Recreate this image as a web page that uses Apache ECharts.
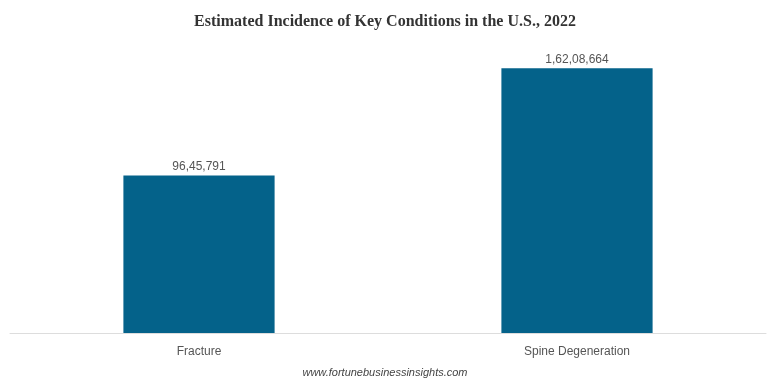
<!DOCTYPE html>
<html>
<head>
<meta charset="utf-8">
<script src="https://cdn.jsdelivr.net/npm/echarts@6/dist/echarts.min.js"></script>
<style>html,body{margin:0;padding:0;background:#fff}#c{width:770px;height:385px}</style>
</head>
<body>
<div id="c"></div>
<script>
const categories = ["Fracture", "Spine Degeneration"];
const values = [9645791, 16208664];
const valueLabels = ["96,45,791", "1,62,08,664"];

const chart = echarts.init(document.getElementById('c'));
chart.setOption({
  animation: false,
  title: {
    text: 'Estimated Incidence of Key Conditions in the U.S., 2022',
    left: 'center', top: 9,
    textStyle: {fontFamily: 'Liberation Serif', fontWeight: 'bold', fontSize: 16, color: '#333'}
  },
  graphic: [{
    type: 'text', left: 'center', top: 367,
    style: {text: 'www.fortunebusinessinsights.com', font: 'italic 11px "Liberation Sans"', fill: '#444'}
  }],
  grid: {left: 10, right: 4, top: 39, bottom: 52},
  xAxis: {
    type: 'category', data: categories,
    axisLine: {lineStyle: {color: '#ddd'}},
    axisTick: {show: false},
    axisLabel: {margin: 13, fontFamily: 'Liberation Sans', fontSize: 12, color: '#555'}
  },
  yAxis: {type: 'value', min: 0, max: 18000000, show: false, splitLine: {show: false}},
  series: [{
    type: 'bar', barWidth: '40%',
    data: values,
    itemStyle: {color: '#04628a'},
    label: {
      show: true, position: 'top', distance: 3,
      fontFamily: 'Liberation Sans', fontSize: 12, color: '#555',
      formatter: p => valueLabels[p.dataIndex]
    }
  }]
});
</script>
</body>
</html>
